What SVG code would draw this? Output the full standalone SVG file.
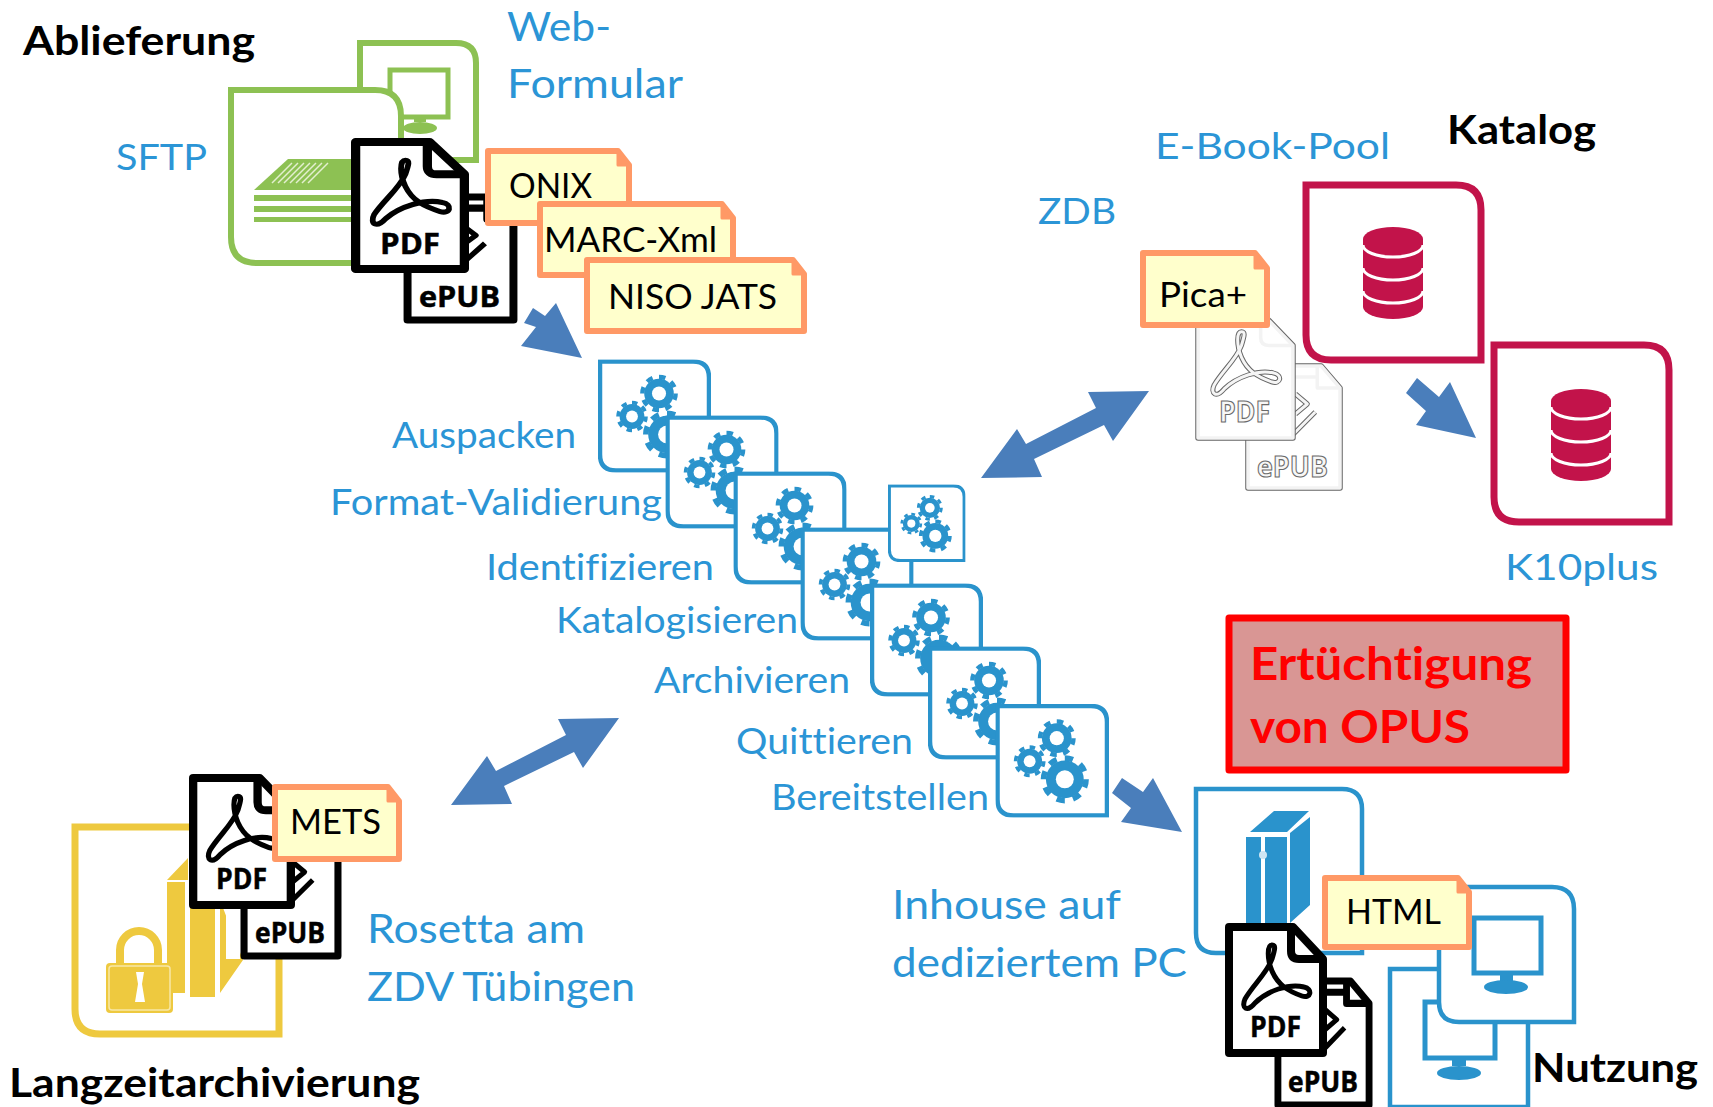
<svg xmlns="http://www.w3.org/2000/svg" width="1713" height="1107" viewBox="0 0 1713 1107">
<style>
text{font-family:"Lato","Open Sans","Liberation Sans",sans-serif;font-variant-ligatures:none}
.b{fill:#2b95d6;font-size:37px}
.bl{fill:#2b95d6;font-size:41px}
.k{fill:#000;font-weight:700;font-size:40px}
.n{fill:#000;font-size:34px}
.ic{font-family:"Open Sans","Liberation Sans",sans-serif;font-weight:700;fill:#000;stroke:#000;stroke-width:.5;font-size:29px}
.gh{font-family:"Open Sans","Liberation Sans",sans-serif;font-weight:700;fill:#f7f7f7;stroke:#6a6a6a;stroke-width:1.1;font-size:29px}
.note{fill:#ffffcc;stroke:#ff9966;stroke-width:6;stroke-linejoin:round}
.fold{fill:#ff9966;stroke:#ff9966;stroke-width:3;stroke-linejoin:round}
.tb{fill:#fff;stroke:#2a93cc;stroke-width:4.5}
.bf{fill:#2a93cc}
.gr{fill:#fff;stroke:#8dc153;stroke-width:6}
.rd{fill:#fff;stroke:#c2134a;stroke-width:7}
.arrow{fill:#4a7ebb}
.mon{fill:none;stroke:#2a93cc;stroke-width:5}
.lg{fill:none;stroke-linejoin:round}
</style>
<defs>
<g id="gear">
<circle r="8" fill="#2a93cc"/>
<circle r="9" fill="none" stroke="#2a93cc" stroke-width="2.4" pathLength="16" stroke-dasharray="1 1"/>
<circle r="3.8" fill="#fff"/>
</g>
<symbol id="tile" viewBox="0 0 113 113">
<path class="tb" d="M2,2H95Q111,2 111,18V111H18Q2,111 2,95Z"/>
<use href="#gear" transform="translate(61,34) scale(1.85)"/>
<use href="#gear" transform="translate(34,57) scale(1.55)"/>
<use href="#gear" transform="translate(69,75) scale(2.35)"/>
</symbol>
<symbol id="pdf" viewBox="0 0 102 134" preserveAspectRatio="none">
<path fill="#fff" stroke="currentColor" stroke-linejoin="round" d="M4,4H68L98,36V130H4Z"/>
<path fill="none" stroke="currentColor" stroke-linejoin="round" d="M66,4V28Q66,36 74,36H98"/>
</symbol>
<symbol id="acro" viewBox="0 0 102 134" preserveAspectRatio="none">
<path class="lg" stroke="currentColor" d="M47,22C42,22 42,36 47,48C53,62 63,68 77,73C86,76 88,66 79,64C64,60 42,68 30,80C22,90 16,85 20,76C28,62 42,50 47,36C50,26 51,22 47,22Z"/>
</symbol>
<symbol id="epub" viewBox="0 0 101 130" preserveAspectRatio="none">
<path fill="#fff" stroke="currentColor" stroke-linejoin="round" d="M4,4H78L97,26V126H4Z"/>
<path fill="none" stroke="currentColor" stroke-linejoin="round" d="M74,4V26H97"/>
<path fill="none" stroke="currentColor" d="M30,15H74"/>
</symbol>
<symbol id="chev" viewBox="0 0 101 130" preserveAspectRatio="none">
<path class="lg" stroke="currentColor" d="M52,32L64,42L52,52M72,50L50,72"/>
</symbol>
<symbol id="db" viewBox="0 0 64 96">
<path fill="#c2134a" d="M2,13V81A30,12 0 0 0 62,81V13A30,12 0 0 0 2,13Z"/>
<path fill="none" stroke="#fff" stroke-width="3" d="M2,19A30,12 0 0 0 62,19M2,42A30,12 0 0 0 62,42M2,65A30,12 0 0 0 62,65"/>
</symbol>
</defs>
<rect width="1713" height="1107" fill="#fff"/>

<g id="web-formular">
<path class="gr" d="M360,43H456Q476,43 476,63V160H360Z"/>
<rect x="390" y="70" width="58" height="47" fill="none" stroke="#8dc153" stroke-width="5"/>
<path fill="#8dc153" d="M414,118H426V122H414Z"/>
<ellipse cx="420" cy="128" rx="17" ry="6" fill="#8dc153"/>
<text class="bl" x="507" y="41" textLength="104" lengthAdjust="spacingAndGlyphs">Web-</text>
<text class="bl" x="507" y="98" textLength="176" lengthAdjust="spacingAndGlyphs">Formular</text>
</g>
<g id="sftp">
<path class="gr" d="M231,90H375Q401,90 401,116V263H257Q231,263 231,237Z"/>
<path fill="#8dc153" d="M254,190L288,159H352V190Z"/>
<path fill="#8dc153" d="M254,195H352V201H254ZM254,206H352V212H254ZM254,217H352V222H254Z"/>
<path fill="none" stroke="#e3efcf" stroke-width="1.5" d="M272,183L292,163M278,183L298,163M284,183L304,163M290,183L310,163M296,183L316,163M302,183L322,163M308,183L328,163"/>
<text class="b" x="116" y="170" textLength="91" lengthAdjust="spacingAndGlyphs">SFTP</text>
</g>
<text class="k" x="23" y="55" textLength="232" lengthAdjust="spacingAndGlyphs">Ablieferung</text>
<g id="ablieferung-files">
<use href="#epub" x="403" y="193" width="115" height="131" color="#000" stroke-width="7"/>
<use href="#chev" x="403" y="193" width="115" height="131" color="#000" stroke-width="5"/>
<text class="ic" x="419" y="307" textLength="81" lengthAdjust="spacingAndGlyphs">ePUB</text>
<use href="#pdf" x="351" y="138" width="118" height="135" color="#000" stroke-width="8"/>
<use href="#acro" x="351" y="138" width="118" height="135" color="#000" stroke-width="5"/>
<text class="ic" x="380" y="254" textLength="60" lengthAdjust="spacingAndGlyphs">PDF</text>
</g>
<g id="onix">
<path class="note" d="M488,151H618L629,165V223H488Z"/>
<path class="fold" d="M618,151V165H629Z"/>
<text class="n" x="509" y="198" textLength="83" lengthAdjust="spacingAndGlyphs">ONIX</text>
</g>
<g id="marc-xml">
<path class="note" d="M540,204H722L733,218V275H540Z"/>
<path class="fold" d="M722,204V218H733Z"/>
<text class="n" x="544" y="252" textLength="173" lengthAdjust="spacingAndGlyphs">MARC-Xml</text>
</g>
<g id="niso-jats">
<path class="note" d="M587,260H793L804,274V331H587Z"/>
<path class="fold" d="M793,260V274H804Z"/>
<text class="n" x="608" y="309" textLength="169" lengthAdjust="spacingAndGlyphs">NISO JATS</text>
</g>

<g id="steps">
<g id="step-auspacken"><use href="#tile" x="598" y="359.5" width="113" height="113"/><text class="b" x="392" y="448" textLength="184" lengthAdjust="spacingAndGlyphs">Auspacken</text></g>
<g id="step-format"><use href="#tile" x="665.5" y="415.5" width="113" height="113"/><text class="b" x="330" y="515" textLength="332" lengthAdjust="spacingAndGlyphs">Format-Validierung</text></g>
<g id="step-identifizieren"><use href="#tile" x="733.5" y="471.5" width="113" height="113"/><text class="b" x="486" y="580" textLength="228" lengthAdjust="spacingAndGlyphs">Identifizieren</text></g>
<g id="step-katalogisieren"><use href="#tile" x="800.5" y="527.5" width="113" height="113"/><text class="b" x="556" y="633" textLength="242" lengthAdjust="spacingAndGlyphs">Katalogisieren</text></g>
<g id="step-extra"><use href="#tile" x="888" y="484.5" width="77.5" height="77.5"/></g>
<g id="step-archivieren"><use href="#tile" x="870" y="583.5" width="113" height="113"/><text class="b" x="654" y="693" textLength="196" lengthAdjust="spacingAndGlyphs">Archivieren</text></g>
<g id="step-quittieren"><use href="#tile" x="928" y="646.5" width="113" height="113"/><text class="b" x="736" y="754" textLength="177" lengthAdjust="spacingAndGlyphs">Quittieren</text></g>
<g id="step-bereitstellen"><use href="#tile" x="995.5" y="704" width="113.5" height="113.5"/><text class="b" x="771" y="810" textLength="218" lengthAdjust="spacingAndGlyphs">Bereitstellen</text></g>
</g>

<g id="katalog">
<path class="rd" d="M1306,185H1456Q1481,185 1481,210V360H1331Q1306,360 1306,335Z"/>
<use href="#db" x="1361" y="226" width="64" height="96"/>
<text class="k" x="1447" y="144" textLength="149" lengthAdjust="spacingAndGlyphs">Katalog</text>
</g>
<g id="k10plus">
<path class="rd" d="M1494,345H1644Q1669,345 1669,370V522H1519Q1494,522 1494,497Z"/>
<use href="#db" x="1549" y="388" width="64" height="96"/>
<text class="b" x="1505" y="580" textLength="153" lengthAdjust="spacingAndGlyphs">K10plus</text>
</g>
<g id="ebook-pool">
<use href="#epub" x="1244" y="362" width="100" height="130" color="#666" stroke-width="5.5"/>
<use href="#epub" x="1244" y="362" width="100" height="130" color="#f3f3f3" stroke-width="3.5"/>
<use href="#chev" x="1244" y="362" width="100" height="130" color="#666" stroke-width="5"/>
<use href="#chev" x="1244" y="362" width="100" height="130" color="#f5f5f5" stroke-width="3"/>
<text class="gh" x="1257" y="477" textLength="71" lengthAdjust="spacingAndGlyphs">ePUB</text>
<use href="#pdf" x="1194" y="310" width="103" height="132" color="#666" stroke-width="5.5"/>
<use href="#pdf" x="1194" y="310" width="103" height="132" color="#f3f3f3" stroke-width="3.5"/>
<use href="#acro" x="1194" y="310" width="103" height="132" color="#666" stroke-width="5"/>
<use href="#acro" x="1194" y="310" width="103" height="132" color="#f5f5f5" stroke-width="3"/>
<text class="gh" x="1219" y="422" textLength="51" lengthAdjust="spacingAndGlyphs">PDF</text>
<text class="b" x="1155" y="159" textLength="235" lengthAdjust="spacingAndGlyphs">E-Book-Pool</text>
<text class="b" x="1038" y="224" textLength="78" lengthAdjust="spacingAndGlyphs">ZDB</text>
</g>
<g id="pica">
<path class="note" d="M1143,253H1255L1267,268V325H1143Z"/>
<path class="fold" d="M1255,253V268H1267Z"/>
<text class="n" x="1159" y="307" textLength="88" lengthAdjust="spacingAndGlyphs">Pica+</text>
</g>

<g id="ertuechtigung">
<rect x="1229" y="618" width="337" height="152" fill="#d99694" stroke="#ff0000" stroke-width="7" stroke-linejoin="round"/>
<text x="1250" y="680" fill="#ff0000" font-weight="700" font-size="45" textLength="282" lengthAdjust="spacingAndGlyphs">Ertüchtigung</text>
<text x="1250" y="743" fill="#ff0000" font-weight="700" font-size="45" textLength="220" lengthAdjust="spacingAndGlyphs">von OPUS</text>
</g>

<g id="server">
<path class="tb" d="M1196,789H1342Q1362,789 1362,809V953H1216Q1196,953 1196,933Z"/>
<path class="bf" d="M1250,832L1274,811H1309L1287,832ZM1290,833L1310,817V905L1290,923ZM1246,837H1261V925H1246ZM1265,837H1287V925H1265Z"/>
<circle cx="1263" cy="855" r="4" fill="#cfe6f3"/>
<text class="bl" x="892" y="919" textLength="229" lengthAdjust="spacingAndGlyphs">Inhouse auf</text>
<text class="bl" x="892" y="977" textLength="295" lengthAdjust="spacingAndGlyphs">dediziertem PC</text>
</g>
<g id="client-back">
<path class="tb" d="M1390,969H1528V1107H1390Z" stroke-width="5"/>
<rect x="1425" y="1002" width="70" height="56" class="mon"/>
<path class="bf" d="M1452,1058H1466V1066H1452Z"/>
<ellipse cx="1459" cy="1073" rx="22" ry="7" class="bf"/>
</g>
<g id="client-front">
<path class="tb" d="M1439,887H1552Q1574,887 1574,909V1022H1459Q1439,1022 1439,1002Z" stroke-width="5"/>
<rect x="1474" y="918" width="67" height="55" class="mon"/>
<path class="bf" d="M1500,973H1513V982H1500Z"/>
<ellipse cx="1506" cy="987" rx="22" ry="7" class="bf"/>
</g>
<g id="nutzung-files">
<use href="#epub" x="1274" y="977" width="99" height="132" color="#000" stroke-width="7"/>
<use href="#chev" x="1274" y="977" width="99" height="132" color="#000" stroke-width="5"/>
<text class="ic" x="1288" y="1092" textLength="70" lengthAdjust="spacingAndGlyphs">ePUB</text>
<use href="#pdf" x="1225" y="923" width="102" height="134" color="#000" stroke-width="8"/>
<use href="#acro" x="1225" y="923" width="102" height="134" color="#000" stroke-width="5"/>
<text class="ic" x="1250" y="1037" textLength="51" lengthAdjust="spacingAndGlyphs">PDF</text>
</g>
<g id="html">
<path class="note" d="M1325,878H1458L1469,892V947H1325Z"/>
<path class="fold" d="M1458,878V892H1469Z"/>
<text class="n" x="1346" y="924" textLength="95" lengthAdjust="spacingAndGlyphs">HTML</text>
</g>
<text class="k" x="1532" y="1082" textLength="166" lengthAdjust="spacingAndGlyphs">Nutzung</text>

<g id="langzeitarchiv">
<path fill="#fff" stroke="#eec93f" stroke-width="7" d="M75,827H279V1034H100Q75,1034 75,1009Z"/>
<path fill="#eec93f" d="M167,880L188,858V880ZM167,882H185V993H167ZM190,907H215V997H190ZM220,900L243,960L220,993Z"/>
<rect x="226" y="880" width="14" height="79" fill="#fff"/>
<path fill="none" stroke="#eec93f" stroke-width="8" d="M120,966V950A19,19 0 0 1 158,950V966"/>
<rect x="106" y="963" width="67" height="50" rx="4" fill="#eec93f"/>
<rect x="109" y="966" width="61" height="44" rx="3" fill="none" stroke="#f7e7a8" stroke-width="1.5"/>
<path fill="#fff" d="M136,972H144L142,984L145,1002H135L138,984Z"/>
<text class="k" x="9" y="1097" textLength="411" lengthAdjust="spacingAndGlyphs">Langzeitarchivierung</text>
<text class="bl" x="367" y="943" textLength="218" lengthAdjust="spacingAndGlyphs">Rosetta am</text>
<text class="bl" x="367" y="1001" textLength="268" lengthAdjust="spacingAndGlyphs">ZDV Tübingen</text>
</g>
<g id="archiv-files">
<use href="#epub" x="240" y="830" width="102" height="130" color="#000" stroke-width="7"/>
<use href="#chev" x="240" y="830" width="102" height="130" color="#000" stroke-width="5"/>
<text class="ic" x="255" y="943" textLength="70" lengthAdjust="spacingAndGlyphs">ePUB</text>
<use href="#pdf" x="189" y="774" width="106" height="135" color="#000" stroke-width="8"/>
<use href="#acro" x="189" y="774" width="106" height="135" color="#000" stroke-width="5"/>
<text class="ic" x="216" y="889" textLength="51" lengthAdjust="spacingAndGlyphs">PDF</text>
</g>
<g id="mets">
<path class="note" d="M275,787H388L399,801V859H275Z"/>
<path class="fold" d="M388,787V801H399Z"/>
<text class="n" x="290" y="834" textLength="91" lengthAdjust="spacingAndGlyphs">METS</text>
</g>

<g id="connectors">
<polygon class="arrow" points="533,308 545,316 556,303 582,358 521,346 536,327 524,323"/>
<polygon class="arrow" points="1149,391 1113,441 1104,425 1034,459 1042,477 981,478 1017,429 1026,444 1096,408 1088,392"/>
<polygon class="arrow" points="619,718 583,768 574,752 504,786 512,804 451,805 487,756 496,771 566,735 558,719"/>
<polygon class="arrow" points="1417,378 1439,397 1450,382 1476,438 1416,425 1426,411 1406,393"/>
<polygon class="arrow" points="1122,778 1143,792 1153,778 1182,832 1121,822 1131,808 1112,793"/>
</g>
</svg>
